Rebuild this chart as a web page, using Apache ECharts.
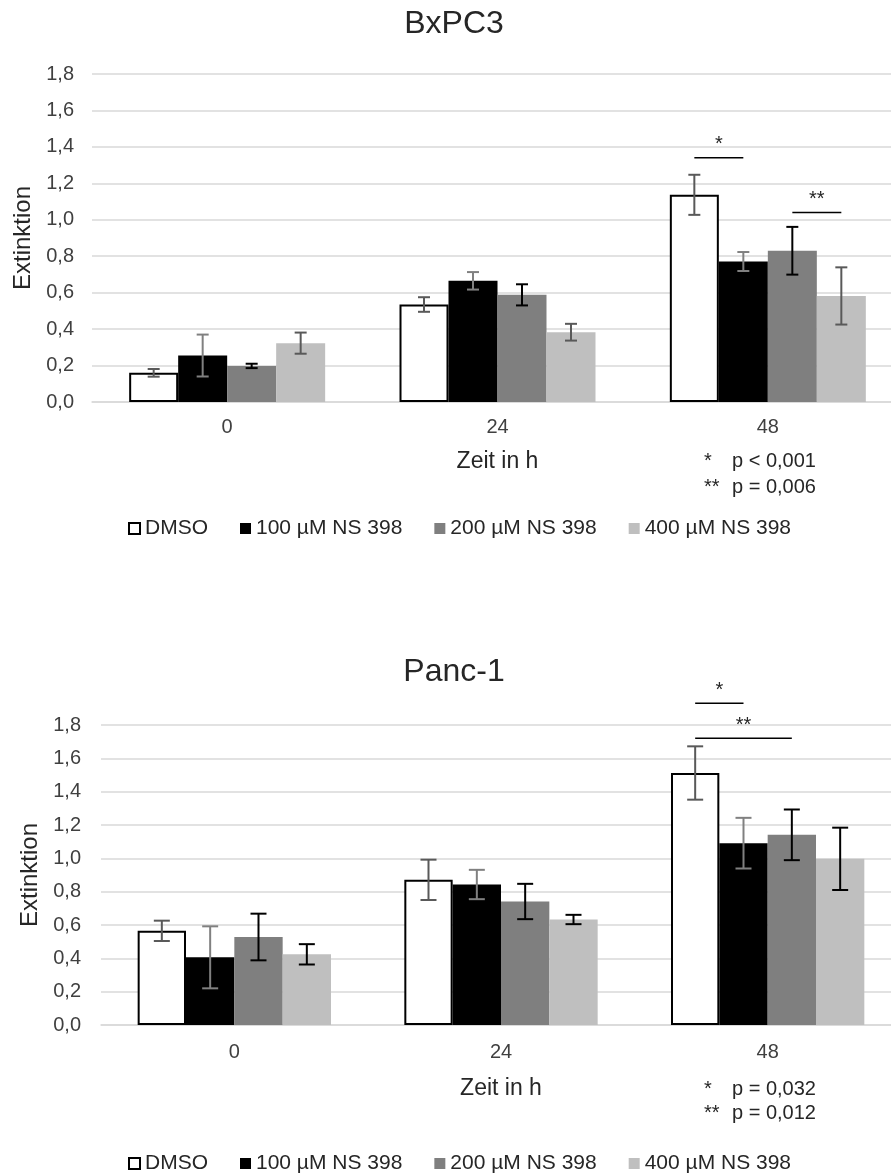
<!DOCTYPE html>
<html>
<head>
<meta charset="utf-8">
<script src="https://cdn.jsdelivr.net/npm/echarts@6/dist/echarts.min.js"></script>
<style>
  html, body { margin: 0; padding: 0; background: #fff; }
  #chart { width: 891px; height: 1173px; }
</style>
</head>
<body>
<div id="chart"></div>
<script>
// data
const categories = ['0', '24', '48'];
const seriesNames = ['DMSO', '100 µM NS 398', '200 µM NS 398', '400 µM NS 398'];

// BxPC3: one row per treatment, values at 0 / 24 / 48 h
const bxpc3Means = [
  [0.160, 0.535, 1.137],
  [0.255, 0.665, 0.771],
  [0.198, 0.588, 0.830],
  [0.323, 0.383, 0.582],
];
const bxpc3Errors = [
  [0.021, 0.040, 0.110],
  [0.115, 0.048, 0.052],
  [0.012, 0.058, 0.131],
  [0.058, 0.046, 0.157],
];
const bxpc3Sig = [
  { cat: 2, from: 0, to: 1, value: 1.34, label: '*' },
  { cat: 2, from: 2, to: 3, value: 1.04, label: '**' },
];
const bxpc3PValues = [['*', 'p < 0,001'], ['**', 'p = 0,006']];

// Panc-1
const panc1Means = [
  [0.565, 0.871, 1.512],
  [0.406, 0.843, 1.091],
  [0.528, 0.741, 1.141],
  [0.424, 0.633, 0.997],
];
const panc1Errors = [
  [0.061, 0.121, 0.160],
  [0.186, 0.088, 0.152],
  [0.140, 0.106, 0.152],
  [0.061, 0.028, 0.187],
];
const panc1Sig = [
  { cat: 2, from: 0, to: 1, value: 1.93, label: '*' },
  { cat: 2, from: 0, to: 2, value: 1.72, label: '**' },
];
const panc1PValues = [['*', 'p = 0,032'], ['**', 'p = 0,012']];

const fontFamily = '"Liberation Sans", Arial, sans-serif';
const barCategoryGap = 0.275;
const barColors = ['#ffffff', '#000000', '#7f7f7f', '#bfbfbf'];
const gridColor = '#d9d9d9';

const panels = [
  {
    title: 'BxPC3', titleTop: 3,
    means: bxpc3Means, errors: bxpc3Errors, sig: bxpc3Sig, pValues: bxpc3PValues,
    errColors: ['#595959', '#808080', '#000000', '#595959'], capWidth: 12,
    grid: { left: 92, right: -12, top: 74, height: 328, outerBoundsMode: 'none' },
    xLabelMargin: 15, xNameGap: 48, yLabelMargin: 18, yNameGap: 57,
    pLines: [461, 487], legendTop: 513,
  },
  {
    title: 'Panc-1', titleTop: 651,
    means: panc1Means, errors: panc1Errors, sig: panc1Sig, pValues: panc1PValues,
    errColors: ['#595959', '#808080', '#000000', '#000000'], capWidth: 16,
    grid: { left: 101, right: -10, top: 725, height: 300, outerBoundsMode: 'none' },
    xLabelMargin: 17, xNameGap: 52, yLabelMargin: 20, yNameGap: 58,
    pLines: [1089, 1113], legendTop: 1148,
  },
];

const errorBarRenderer = (j, color, cap) => (params, api) => {
  const cat = api.value(0);
  const lo = api.coord([cat, api.value(1)]);
  const hi = api.coord([cat, api.value(2)]);
  const band = api.size([1, 0])[0];
  const bw = band * (1 - barCategoryGap) / 4;
  const x = hi[0] - 2 * bw + (j + 0.5) * bw;
  const style = { stroke: color, lineWidth: 2 };
  return {
    type: 'group',
    children: [
      { type: 'line', shape: { x1: x, y1: hi[1], x2: x, y2: lo[1] }, style },
      { type: 'line', shape: { x1: x - cap / 2, y1: hi[1], x2: x + cap / 2, y2: hi[1] }, style },
      { type: 'line', shape: { x1: x - cap / 2, y1: lo[1], x2: x + cap / 2, y2: lo[1] }, style },
    ],
  };
};

const series = [];
panels.forEach((p, i) => {
  seriesNames.forEach((name, j) => {
    series.push({
      type: 'bar',
      name,
      xAxisIndex: i,
      yAxisIndex: i,
      data: p.means[j],
      barGap: '0%',
      barCategoryGap: (barCategoryGap * 100) + '%',
      itemStyle: j === 0
        ? { color: '#ffffff', borderColor: '#000000', borderWidth: 2 }
        : { color: barColors[j] },
      z: 2,
    });
  });
  seriesNames.forEach((name, j) => {
    series.push({
      type: 'custom',
      xAxisIndex: i,
      yAxisIndex: i,
      silent: true,
      z: 5,
      data: p.means[j].map((m, k) => [k, m - p.errors[j][k], m + p.errors[j][k]]),
      renderItem: errorBarRenderer(j, p.errColors[j], p.capWidth),
    });
  });
});

const chart = echarts.init(document.getElementById('chart'));

chart.setOption({
  animation: false,
  textStyle: { fontFamily },
  title: panels.map(p => ({
    text: p.title,
    left: 449,
    top: p.titleTop,
    textAlign: 'center',
    textStyle: { fontSize: 32, fontWeight: 'normal', color: '#262626', fontFamily },
  })),
  legend: panels.map(p => ({
    data: seriesNames,
    left: 123,
    top: p.legendTop,
    icon: 'rect',
    itemWidth: 11,
    itemHeight: 11,
    itemGap: 32,
    selectedMode: false,
    textStyle: { fontSize: 21, color: '#262626', fontFamily },
  })),
  grid: panels.map(p => p.grid),
  xAxis: panels.map((p, i) => ({
    type: 'category',
    gridIndex: i,
    data: categories,
    name: 'Zeit in h',
    nameLocation: 'middle',
    nameGap: p.xNameGap,
    nameTextStyle: { fontSize: 23, color: '#262626', fontFamily },
    axisTick: { show: false },
    axisLine: { lineStyle: { color: gridColor, width: 1.5 } },
    axisLabel: { fontSize: 20, color: '#404040', margin: p.xLabelMargin, fontFamily },
  })),
  yAxis: panels.map((p, i) => ({
    type: 'value',
    gridIndex: i,
    min: 0,
    max: 1.8,
    interval: 0.2,
    name: 'Extinktion',
    nameLocation: 'middle',
    nameGap: p.yNameGap,
    nameTextStyle: { fontSize: 24, color: '#262626', fontFamily },
    axisLine: { show: false },
    axisTick: { show: false },
    axisLabel: {
      fontSize: 20,
      color: '#404040',
      margin: p.yLabelMargin,
      fontFamily,
      formatter: v => v.toFixed(1).replace('.', ','),
    },
    splitLine: { lineStyle: { color: gridColor, width: 1.5 } },
  })),
  series,
});

// significance brackets and p-value notes
const graphics = [];
panels.forEach((p, i) => {
  const c0 = chart.convertToPixel({ gridIndex: i }, [0, 0]);
  const c1 = chart.convertToPixel({ gridIndex: i }, [1, 0]);
  const bw = (c1[0] - c0[0]) * (1 - barCategoryGap) / 4;
  p.sig.forEach(s => {
    const pt = chart.convertToPixel({ gridIndex: i }, [s.cat, s.value]);
    const x1 = pt[0] - 2 * bw + (s.from + 0.5) * bw;
    const x2 = pt[0] - 2 * bw + (s.to + 0.5) * bw;
    graphics.push({
      type: 'line',
      shape: { x1, y1: pt[1], x2, y2: pt[1] },
      style: { stroke: '#000', lineWidth: 1.5 },
      z: 10,
    });
    graphics.push({
      type: 'text',
      x: (x1 + x2) / 2,
      y: pt[1] - 13,
      style: { text: s.label, font: '20px ' + fontFamily, fill: '#262626', textAlign: 'center', textVerticalAlign: 'middle' },
      z: 10,
    });
  });
  p.pValues.forEach((row, k) => {
    graphics.push({
      type: 'text',
      x: 704,
      y: p.pLines[k],
      style: { text: row[0], font: '20px ' + fontFamily, fill: '#262626', textVerticalAlign: 'middle' },
    });
    graphics.push({
      type: 'text',
      x: 732,
      y: p.pLines[k],
      style: { text: row[1], font: '20px ' + fontFamily, fill: '#262626', textVerticalAlign: 'middle' },
    });
  });
});
chart.setOption({ graphic: graphics });

window.addEventListener('resize', () => chart.resize());
</script>
</body>
</html>
